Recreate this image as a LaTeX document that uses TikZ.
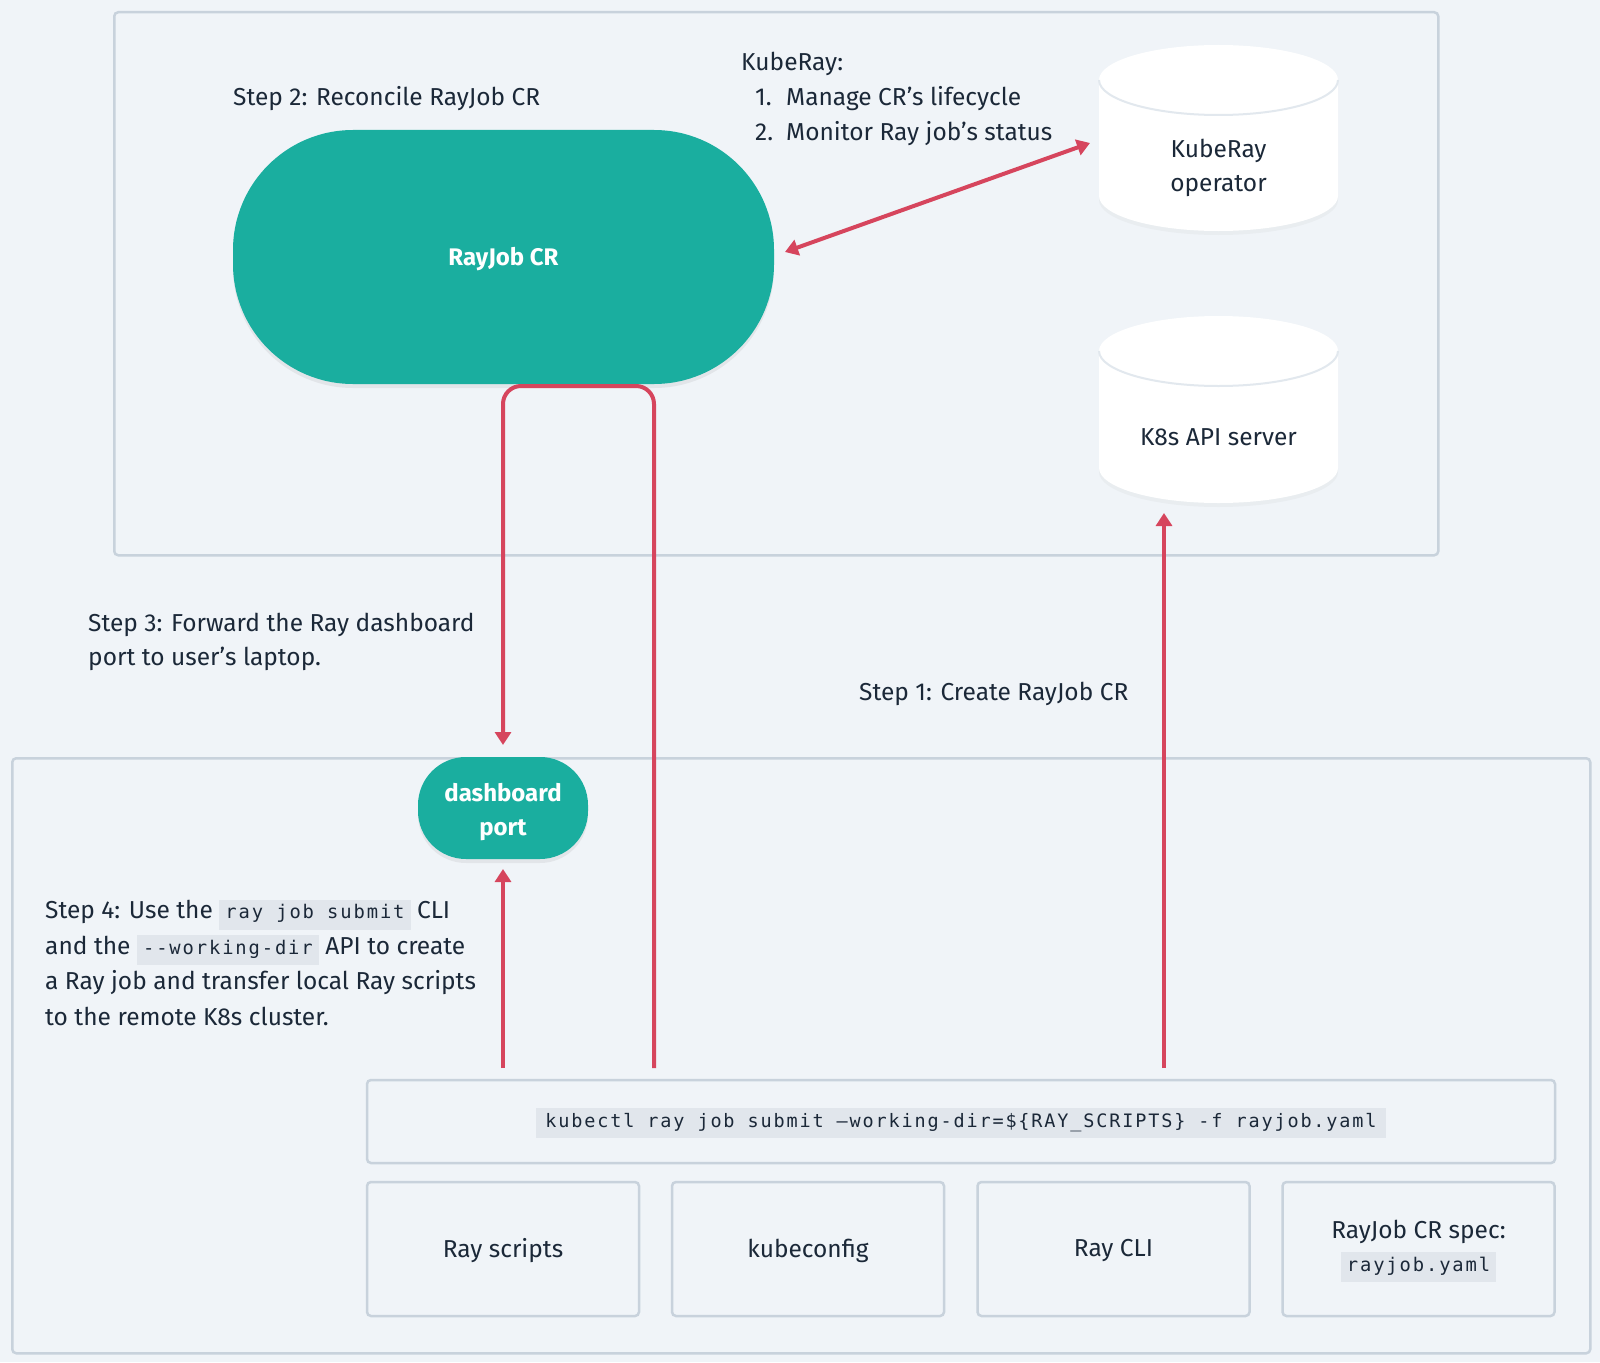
\documentclass[tikz,border=0pt]{standalone}
\usepackage{fontspec}
\setmainfont{Fira Sans}
\newfontfamily\codefont[LetterSpace=10]{DejaVu Sans Mono}
\usetikzlibrary{arrows.meta,shadows}
\definecolor{bgclr}{HTML}{F0F4F8}
\definecolor{frameclr}{HTML}{C8D2DC}
\definecolor{tealclr}{HTML}{1AAE9F}
\definecolor{redclr}{HTML}{D6455D}
\definecolor{inkclr}{HTML}{1B2838}
\definecolor{codeclr}{HTML}{E1E6EC}
\definecolor{cylclr}{HTML}{E2E8EE}
\newcommand\codebit[1]{{\setlength\fboxsep{5pt}\colorbox{codeclr}{\codefont\fontsize{18.8}{20}\selectfont\strut\hspace{1pt}#1\hspace{1pt}}}}
\begin{document}
\begin{tikzpicture}[x=1pt,y=-1pt,
  every node/.style={text=inkclr, font=\fontsize{24.5}{34}\selectfont, inner sep=0pt},
  frame/.style={draw=frameclr, line width=2.5pt, rounded corners=4pt, anchor=north west},
  tealbox/.style={fill=tealclr, text=white, font=\fontsize{24}{34}\selectfont\bfseries,
     drop shadow={opacity=0.12, shadow xshift=0pt, shadow yshift=-4pt}},
  tealtext/.style={text=white, font=\fontsize{24}{34}\selectfont\bfseries, align=center},
  cylbody/.style={fill=white, drop shadow={opacity=0.06, shadow xshift=0pt, shadow yshift=-4pt}},
  cyledge/.style={draw=cylclr, line width=2pt},
  conn/.style={draw=redclr, line width=4pt, -{Triangle[width=16pt,length=13pt]}},
  conn2/.style={draw=redclr, line width=4pt, {Triangle[width=16pt,length=13pt]}-{Triangle[width=16pt,length=13pt]}},
  label/.style={anchor=base west, align=left}]
\fill[bgclr] (0,0) rectangle (1600,1362);
\useasboundingbox (0,0) rectangle (1600,1362);

% frames
\node[frame, minimum width=1324pt, minimum height=543pt] (topframe) at (113,11) {};
\node[frame, minimum width=1578pt, minimum height=595pt] (botframe) at (11,757) {};

% RayJob CR
\node[tealbox, rounded corners=120pt, minimum width=541pt, minimum height=254pt] (rayjob) at (503.5,257) {};
\node[tealtext] (rayjobtext) at (503.5,259) {RayJob CR};

% cylinders
\fill[cylbody] (1099,80) -- (1099,196) arc[start angle=180, end angle=360, x radius=119.5pt, y radius=35pt]
  -- (1338,80) arc[start angle=0, end angle=180, x radius=119.5pt, y radius=35pt] -- cycle;
\draw[cyledge] (1099,80) arc[start angle=180, end angle=360, x radius=119.5pt, y radius=35pt];
\node[align=center] (operator) at (1218.5,168) {KubeRay\\operator};

\fill[cylbody] (1099,351) -- (1099,468) arc[start angle=180, end angle=360, x radius=119.5pt, y radius=35pt]
  -- (1338,351) arc[start angle=0, end angle=180, x radius=119.5pt, y radius=35pt] -- cycle;
\draw[cyledge] (1099,351) arc[start angle=180, end angle=360, x radius=119.5pt, y radius=35pt];
\node (apiserver) at (1218.5,437) {K8s API server};

% texts top
\node[label] (step2) at (233,106) {Step 2: Reconcile RayJob CR};
\node[label] (kuberay) at (741,71) {KubeRay:};
\node[label] (n1) at (755,106) {1.};
\node[label] (item1) at (786,106) {Manage CR’s lifecycle};
\node[label] (n2) at (755,140) {2.};
\node[label] (item2) at (786,140) {Monitor Ray job’s status};

\node[label] (step3) at (88,665) {Step 3: Forward the Ray dashboard\\port to user’s laptop.};
\node[label] (step1) at (859,700) {Step 1: Create RayJob CR};
\node[label, font=\fontsize{24.5}{35.4}\selectfont] (step4) at (45,1025)
  {Step 4: Use the \codebit{ray job submit} CLI\\and the \codebit{-{}-working-dir} API to create\\a Ray job and transfer local Ray scripts\\to the remote K8s cluster.};

% bottom boxes
\node[frame, anchor=center, minimum width=1188pt, minimum height=83pt] (cmd) at (961,1121.5) {};
\node[fill=codeclr, inner xsep=9pt, inner ysep=6pt] (cmdtext) at (961,1123)
  {\codefont\fontsize{18.5}{20}\selectfont kubectl ray job submit –working-dir=\$\{RAY\_SCRIPTS\} -f rayjob.yaml};

\node[frame, anchor=center, minimum width=272pt, minimum height=134pt] (scripts) at (503,1249) {};
\node (scriptstext) at (503,1251) {Ray scripts};
\node[frame, anchor=center, minimum width=272pt, minimum height=134pt] (kubeconfig) at (808,1249) {};
\node (kubeconfigtext) at (808,1251) {kubeconfig};
\node[frame, anchor=center, minimum width=272pt, minimum height=134pt] (raycli) at (1113.5,1249) {};
\node (raeclitext) at (1113.5,1251) {Ray CLI};
\node[frame, anchor=center, minimum width=272pt, minimum height=134pt] (spec) at (1418.5,1249) {};
\node[align=center, font=\fontsize{24.5}{33}\selectfont] (spectext) at (1418.5,1251)
  {RayJob CR spec:\\\codebit{rayjob.yaml}};

% dashboard port
\node[tealbox, rounded corners=48pt, minimum width=170pt, minimum height=102pt] (dash) at (503,808) {};
\node[tealtext] (dashtext) at (503,812) {dashboard\\port};

% connectors
\coordinate (rjend) at (785,252);
\coordinate (opend) at (1090,143);
\draw[conn2] (rjend) -- (opend);

\coordinate (s1start) at (1164,1068);
\coordinate (s1end) at (1164,513);
\draw[conn] (s1start) -- (s1end);

\coordinate (s4start) at (503,1068);
\coordinate (s4end) at (503,869);
\draw[conn] (s4start) -- (s4end);

\coordinate (s3start) at (654,1068);
\coordinate (s3c1) at (654,386);
\coordinate (s3c2) at (503,386);
\coordinate (s3end) at (503,745);
\draw[conn, rounded corners=18pt] (s3start) -- (s3c1) -- (s3c2) -- (s3end);
\end{tikzpicture}
\end{document}
